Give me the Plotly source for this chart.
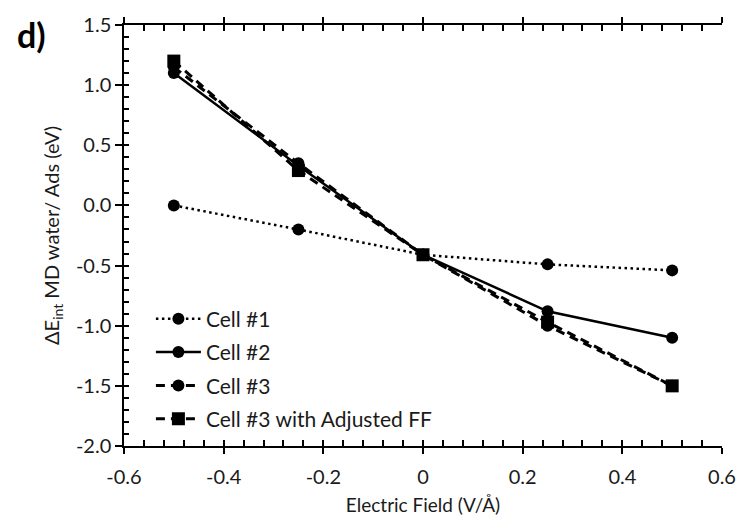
import plotly.graph_objects as go

# Electric field values (V/Å)
field = [-0.5, -0.25, 0.0, 0.25, 0.5]

# Interaction energy for each simulation cell (eV)
cell1 = [0.0, -0.20, -0.41, -0.49, -0.54]
cell2 = [1.10, 0.33, -0.41, -0.88, -1.10]
cell3 = [1.15, 0.35, -0.41, -1.00, -1.50]
cell3_ff = [1.20, 0.29, -0.41, -0.97, -1.50]

names = ["Cell #1", "Cell #2", "Cell #3", "Cell #3 with Adjusted FF"]

x_tickvals = [-0.6, -0.4, -0.2, 0.0, 0.2, 0.4, 0.6]
x_ticktext = ["-0.6", "-0.4", "-0.2", "0", "0.2", "0.4", "0.6"]
y_tickvals = [1.5, 1.0, 0.5, 0.0, -0.5, -1.0, -1.5, -2.0]
y_ticktext = ["1.5", "1.0", "0.5", "0.0", "-0.5", "-1.0", "-1.5", "-2.0"]

FONT = "Lato, 'Open Sans', sans-serif"
INK = "#000000"
TEXT = "#1a1a1a"

series = [
    (cell1, "circle", 12, dict(width=2.5, dash="2.5px,3.5px")),
    (cell2, "circle", 12, dict(width=2.5)),
    (cell3, "circle", 12, dict(width=3, dash="9px,6px")),
    (cell3_ff, "square", 13, dict(width=3, dash="9px,6px")),
]

fig = go.Figure()
for i, (vals, sym, size, line) in enumerate(series):
    fig.add_trace(go.Scatter(
        x=field, y=vals, name=names[i], mode="lines+markers",
        line=dict(color=INK, **line),
        marker=dict(symbol=sym, size=size, color=INK),
        legendgroup=f"g{i}",
    ))

# invisible helper trace so the overlay axes (inner tick marks) are drawn
fig.add_trace(go.Scatter(x=[None], y=[None], xaxis="x2", yaxis="y2",
                         showlegend=False, hoverinfo="skip"))

axis_common = dict(showgrid=False, zeroline=False, linecolor=INK,
                   linewidth=1.5, tickcolor=INK, tickwidth=1.5,
                   tickfont=dict(size=20, color=TEXT))

fig.update_layout(
    width=748, height=525,
    margin=dict(l=124, r=16, t=23, b=77),
    paper_bgcolor="white", plot_bgcolor="white",
    font=dict(family=FONT, color=TEXT, size=18),
    showlegend=True,
    legend=dict(
        x=0.045, y=0.35, xanchor="left", yanchor="top",
        bgcolor="rgba(0,0,0,0)", font=dict(size=21, color=TEXT),
        traceorder="grouped", tracegroupgap=3, itemwidth=45,
    ),
    xaxis=dict(
        range=[-0.6, 0.6], tickmode="array", tickvals=x_tickvals,
        ticktext=x_ticktext, ticks="outside", ticklen=6,
        ticklabelstandoff=6,
        showline=True, mirror="ticks",
        title=dict(text="Electric Field (V/Å)", standoff=12,
                   font=dict(size=19)),
        **axis_common,
    ),
    yaxis=dict(
        range=[-2.0, 1.5], tickmode="array", tickvals=y_tickvals,
        ticktext=y_ticktext, ticks="outside", ticklen=7,
        showline=True,
        title=dict(text="ΔE<sub>int</sub> MD water/ Ads (eV)", standoff=11,
                   font=dict(size=20)),
        **axis_common,
    ),
    xaxis2=dict(
        range=[-0.6, 0.6], overlaying="x", anchor="y", side="bottom",
        tickmode="linear", tick0=-0.6, dtick=0.04, ticks="inside",
        ticklen=6, showticklabels=False, showline=False, mirror="ticks",
        showgrid=False, zeroline=False, tickcolor=INK, tickwidth=1.5,
    ),
    yaxis2=dict(
        range=[-2.0, 1.5], overlaying="y", anchor="x", side="left",
        tickmode="linear", tick0=-2.0, dtick=0.1, ticks="inside",
        ticklen=5, showticklabels=False, showline=False,
        showgrid=False, zeroline=False, tickcolor=INK, tickwidth=1.5,
    ),
    annotations=[dict(
        text="<b>d)</b>", xref="paper", yref="paper",
        x=-0.182, y=1.03, xanchor="left", yanchor="top",
        showarrow=False, font=dict(size=34, color=INK, family=FONT),
    )],
)

fig.write_html("out.html")
